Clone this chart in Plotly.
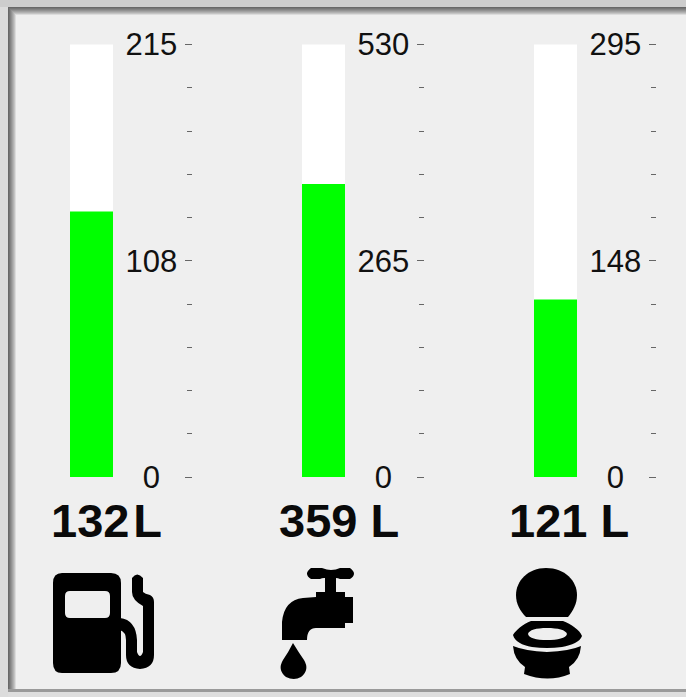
import plotly.graph_objects as go

W, H = 686, 697

names = ["Fuel", "Water", "Waste"]
values = [132, 359, 121]
capacities = [215, 530, 295]
mid_labels = ["108", "265", "148"]
zero_label = "0\u00a0\u00a0"
readouts = ["132\u200aL", "359 L", "121 L"]
bar_left = [70, 302, 534]
readout_x = [106.5, 339, 569]

BAR_W = 43
AXIS_GAP = 122
TOP, BOT = 44.5, 477
PAD = 24

def px(x):
    return x / W

def py(y):
    return 1 - y / H

def P(*cmds):
    s = ""
    for c in cmds:
        if isinstance(c, str):
            s += " " + c + " "
        else:
            s += f"{px(c[0]):.5f},{py(c[1]):.5f} "
    return s.strip()

fig = go.Figure()
layout = {}
for i, name in enumerate(names):
    suffix = "" if i == 0 else str(i + 1)
    cap = capacities[i]
    span = AXIS_GAP / BAR_W
    pad_units = cap * PAD / (BOT - TOP)
    fig.add_trace(go.Bar(x=[name], y=[cap], width=1, marker=dict(color="#ffffff", line_width=0),
                         xaxis="x" + suffix, yaxis="y" + suffix, showlegend=False, hoverinfo="skip"))
    fig.add_trace(go.Bar(x=[name], y=[values[i]], width=1, marker=dict(color="#00ff00", line_width=0),
                         xaxis="x" + suffix, yaxis="y" + suffix, showlegend=False))
    layout["xaxis" + suffix] = dict(
        domain=[px(bar_left[i]), px(bar_left[i] + AXIS_GAP)],
        range=[-0.5, span - 0.5], visible=False, type="category",
        anchor="y" + suffix, fixedrange=True,
    )
    layout["yaxis" + suffix] = dict(
        domain=[py(BOT + PAD), py(TOP - PAD)], range=[-pad_units, cap + pad_units], side="right",
        anchor="x" + suffix, showgrid=False, zeroline=False, showline=False,
        ticks="inside", ticklen=7, tickwidth=1, tickcolor="#666666",
        ticklabelposition="inside", ticklabelstandoff=11,
        tickvals=[0, cap / 2, cap], ticktext=[zero_label, mid_labels[i], str(cap)],
        tickfont=dict(family="Liberation Sans, Arial, sans-serif", size=31, color="#111111"),
        minor=dict(tickvals=[cap * k / 10 for k in range(1, 10) if k != 5], ticks="inside",
                   ticklen=5, tickwidth=1, tickcolor="#666666", showgrid=False),
        fixedrange=True,
    )

ann = [dict(x=px(readout_x[i]), y=py(520), xref="paper", yref="paper", text=f"<b>{readouts[i]}</b>",
            showarrow=False, xanchor="center", yanchor="middle",
            font=dict(family="Liberation Sans, Arial, sans-serif", size=47, color="#0a0a0a"))
       for i in range(3)]

shapes = []
def rect(x0, y0, x1, y1, color):
    shapes.append(dict(type="rect", xref="paper", yref="paper", x0=px(x0), x1=px(x1), y0=py(y1), y1=py(y0),
                       fillcolor=color, line_width=0, layer="below"))

def icon(path, color="#000000"):
    shapes.append(dict(type="path", xref="paper", yref="paper", path=path, fillcolor=color,
                       line_width=0, layer="above"))

# bevelled frame
rect(0, 0, W, H, "#cdcdcd")
bevel = ["#686868", "#757575", "#838383", "#929292", "#a2a2a2", "#b2b2b2", "#c4c4c4", "#dcdcdc"]
for k, c in enumerate(bevel):
    rect(8 + k, 7 + k, W, 692, c)
rect(16, 15, W, 689, "#efefef")
rect(8, 689, W, 692, "#9a9a9a")
rect(0, 692, W, H, "#dedede")
rect(0, 0, 8, H, "#dcdcdc")
rect(0, 0, W, 7, "#cdcdcd")

# fuel pump
icon(P("M", (62, 573), "L", (111, 573), "Q", (121, 573), (121, 583), "L", (121, 663), "Q", (121, 673), (111, 673),
       "L", (62, 673), "Q", (53, 673), (53, 663), "L", (53, 583), "Q", (53, 573), (62, 573), "Z",
       "M", (70, 591), "Q", (65, 591), (65, 596), "L", (65, 613), "Q", (65, 618), (70, 618), "L", (105, 618),
       "Q", (110, 618), (110, 613), "L", (110, 596), "Q", (110, 591), (105, 591), "Z"))
icon(P("M", (132, 578), "Q", (137, 571), (143, 578), "L", (143, 592), "Q", (145, 594), (150, 595),
       "Q", (154, 597), (154, 602), "L", (154, 655), "Q", (154, 668), (140, 669), "Q", (126, 668), (126, 655),
       "L", (126, 640), "Q", (126, 632), (120, 630), "L", (120, 618), "Q", (136, 620), (137, 640), "L", (137, 652),
       "Q", (140, 660), (143, 652), "L", (143, 606), "Q", (132, 600), (132, 592), "Z"))

# tap
icon(P("M", (311, 568), "L", (322, 568), "Q", (327, 570), (331, 570), "Q", (336, 570), (340, 568), "L", (350, 568),
       "Q", (358, 574), (350, 579), "L", (340, 579), "Q", (338, 578), (336, 578), "L", (336, 592), "L", (345, 592),
       "L", (345, 597), "L", (353, 597), "L", (353, 623), "L", (345, 623), "L", (345, 628), "L", (316, 628),
       "Q", (307, 628), (307, 640), "L", (282, 640), "L", (282, 622),
       "Q", (284, 600), (303, 598), "L", (316, 597), "L", (316, 592), "L", (325, 592), "L", (325, 578), "L", (324, 578),
       "Q", (322, 578), (320, 579), "L", (311, 579), "Q", (303, 574), (311, 568), "Z"))
icon(P("M", (293, 643), "Q", (299, 653), (304, 660), "Q", (310, 670), (301, 677), "Q", (294, 681), (286, 677),
       "Q", (277, 670), (283, 660), "Q", (288, 653), (293, 643), "Z"))

# toilet
icon(P("M", (546, 568), "C", (565, 568), (577, 581), (577, 595), "C", (577, 604), (573, 611), (568, 617), "L", (526, 617),
       "C", (520, 611), (516, 604), (516, 595), "C", (516, 581), (528, 568), (546, 568), "Z"))
icon(P("M", (531, 621), "L", (563, 621), "C", (571, 624), (580, 630), (582, 636), "C", (580, 642), (572, 645), (562, 647),
       "Q", (547, 649), (532, 647), "C", (522, 645), (515, 642), (513, 635), "C", (516, 630), (523, 624), (531, 621), "Z",
       "M", (547, 628), "C", (536, 628), (529, 630), (528, 634), "C", (529, 638), (536, 640), (547, 640),
       "C", (558, 640), (566, 638), (567, 634), "C", (566, 630), (558, 628), (547, 628), "Z"))
icon(P("M", (513, 646), "Q", (525, 651), (547, 652), "Q", (570, 651), (581, 646), "Q", (580, 660), (569, 667),
       "L", (570, 674), "Q", (548, 683), (524, 674), "L", (525, 667), "Q", (514, 660), (513, 646), "Z"))

fig.update_layout(
    width=W, height=H, margin=dict(l=0, r=0, t=0, b=0), barmode="overlay",
    paper_bgcolor="#efefef", plot_bgcolor="rgba(0,0,0,0)", showlegend=False,
    annotations=ann, shapes=shapes, **layout,
)
fig.write_html("out.html", config={"displayModeBar": False},
               post_script="document.body.style.margin='0';document.documentElement.style.overflow='hidden';")
